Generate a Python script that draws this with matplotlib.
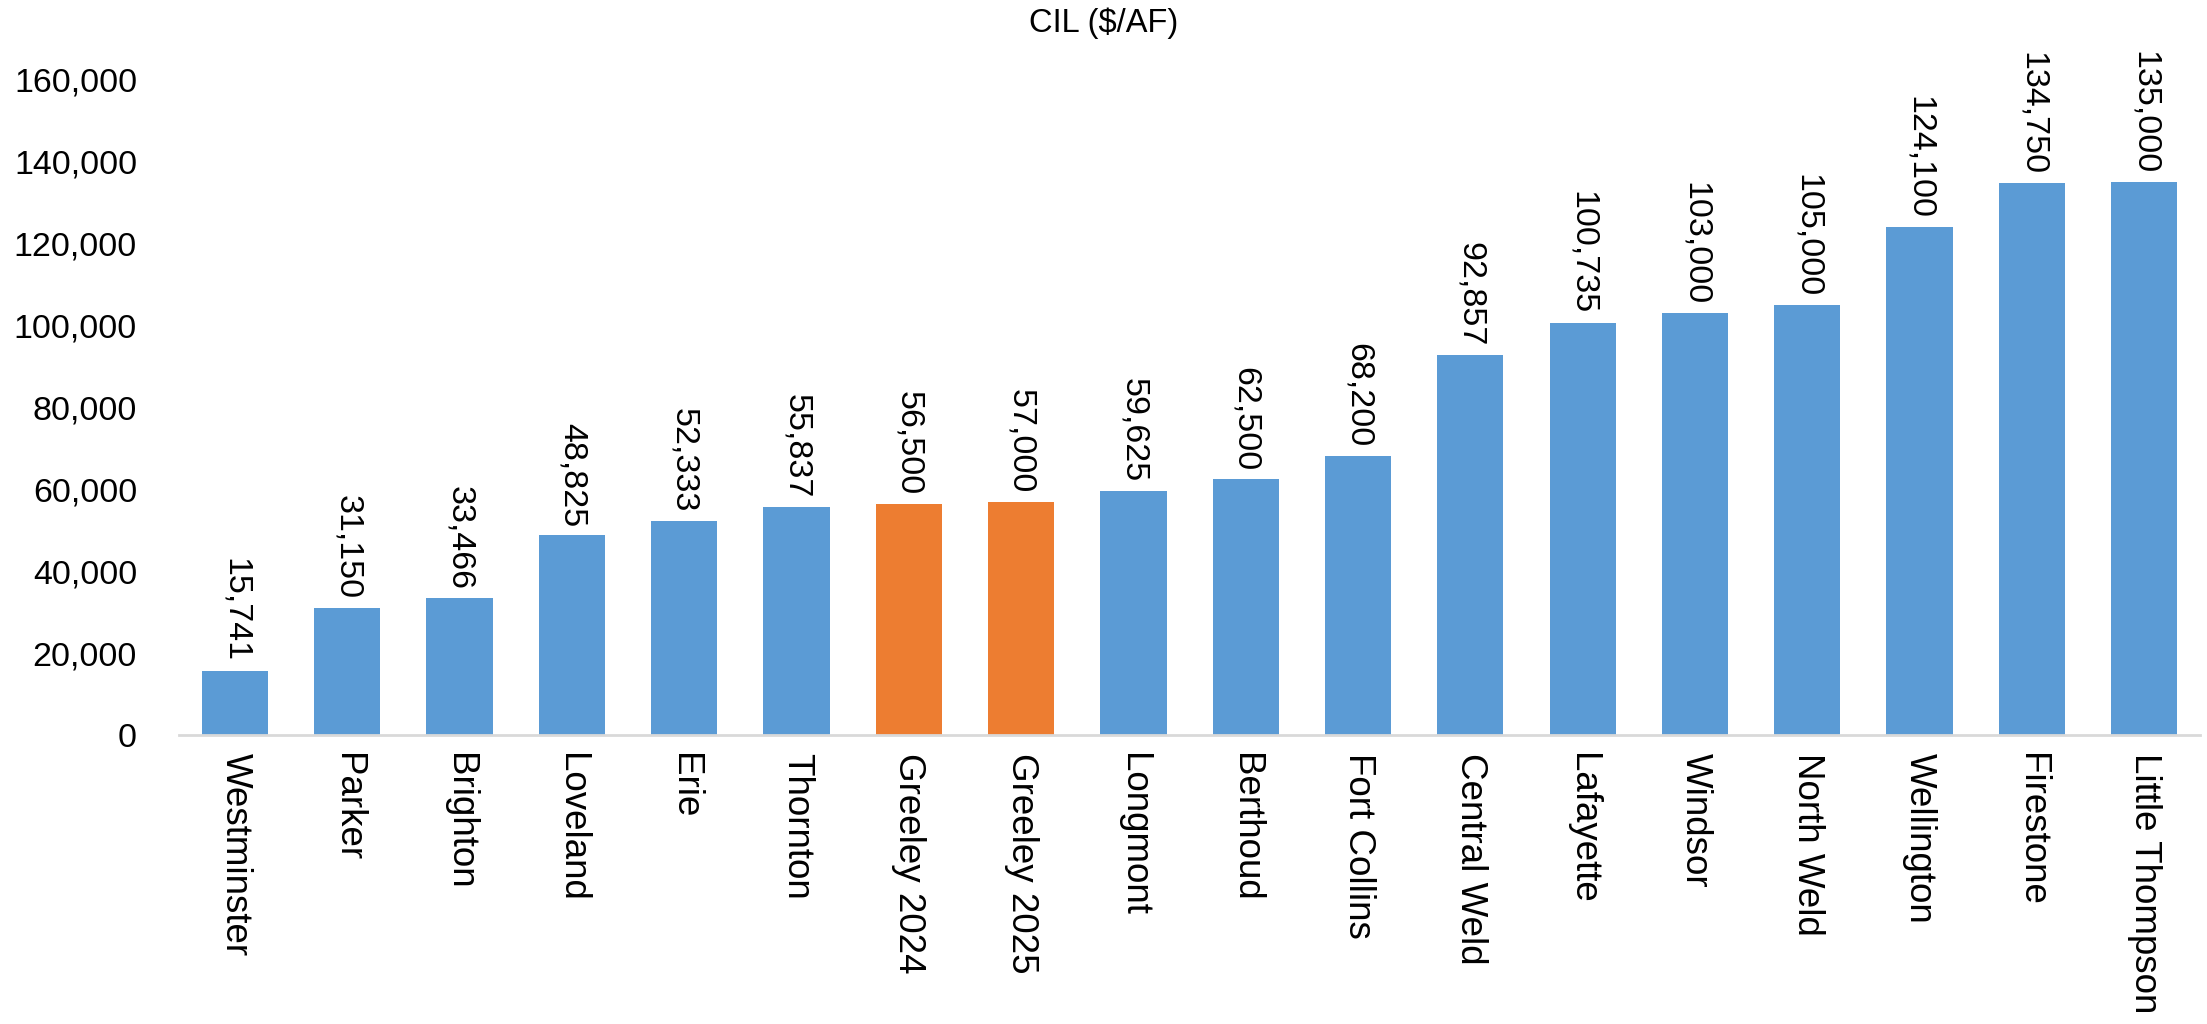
import numpy as np
import matplotlib.pyplot as plt
from matplotlib.ticker import FuncFormatter

plt.rcParams['font.family'] = ['Liberation Sans', 'DejaVu Sans']

places = ['Westminster', 'Parker', 'Brighton', 'Loveland', 'Erie', 'Thornton',
          'Greeley 2024', 'Greeley 2025', 'Longmont', 'Berthoud', 'Fort Collins',
          'Central Weld', 'Lafayette', 'Windsor', 'North Weld', 'Wellington',
          'Firestone', 'Little Thompson']
cil = [15741, 31150, 33466, 48825, 52333, 55837, 56500, 57000, 59625, 62500,
       68200, 92857, 100735, 103000, 105000, 124100, 134750, 135000]
highlight = ['Greeley 2024', 'Greeley 2025']

blue = '#5B9BD5'
orange = '#ED7D31'

fig = plt.figure(figsize=(22.07, 10.24), dpi=100)
ax = fig.add_axes([0.081, 0.282, 0.916, 0.640])

x = np.arange(len(places))
colors = [orange if p in highlight else blue for p in places]
bars = ax.bar(x, cil, width=0.59, color=colors, zorder=2)

# value labels above the bars, reading top to bottom
for rect, v in zip(bars, cil):
    ax.annotate('{:,}'.format(v), (rect.get_x() + rect.get_width() / 2, rect.get_height()),
                xytext=(0, 6), textcoords='offset points', rotation=-90,
                ha='center', va='bottom', fontsize=24.5, annotation_clip=False)

ax.set_xlim(-0.5, len(places) - 0.5)
ax.set_ylim(0, 160000)
ax.set_yticks(np.arange(0, 160001, 20000))
ax.yaxis.set_major_formatter(FuncFormatter(lambda v, p: '{:,.0f}'.format(v)))
ax.set_xticks(x)
ax.set_xticklabels(places, rotation=-90, ha='center', va='top', fontsize=26.5)
ax.tick_params(axis='y', length=0, labelsize=24.5, pad=30)
ax.tick_params(axis='x', length=0, pad=13)

for side in ['top', 'right', 'left']:
    ax.spines[side].set_visible(False)
ax.spines['bottom'].set_color('#D9D9D9')
ax.spines['bottom'].set_linewidth(2)

fig.text(0.5, 0.977, 'CIL ($/AF)', ha='center', va='center', fontsize=23.5)

fig.savefig('out.png', dpi=100)
